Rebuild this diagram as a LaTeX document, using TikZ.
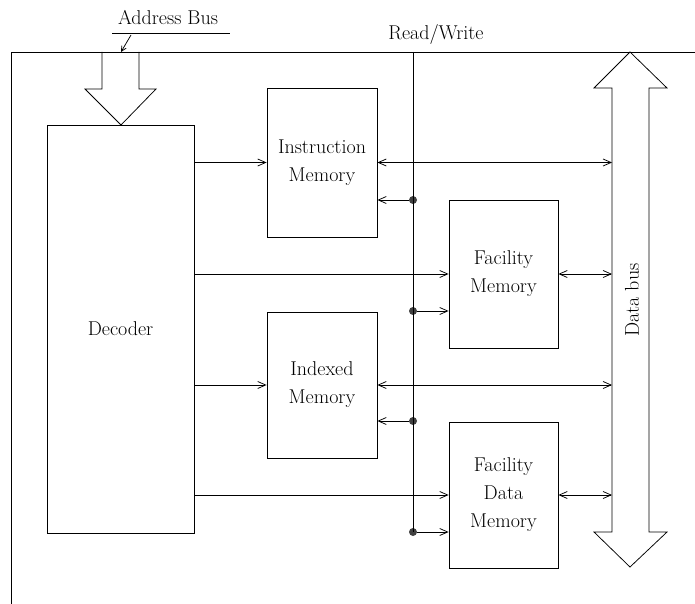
\documentclass[tikz,border=0pt]{standalone}
\usetikzlibrary{arrows.meta}
\begin{document}
\begin{tikzpicture}[x=1pt,y=-1pt,
  line width=0.75pt,
  box/.style={draw,rectangle,inner sep=0pt,align=center,font=\fontsize{20}{28}\selectfont},
  lbl/.style={inner sep=0pt,font=\fontsize{20}{24}\selectfont},
  arr/.style={-{Straight Barb[length=8pt,width=7pt]}},
  biarr/.style={{Straight Barb[length=8pt,width=7pt]}-{Straight Barb[length=8pt,width=7pt]}},
  tap/.style={circle,fill=black!75,inner sep=0pt,minimum size=8pt}]
\useasboundingbox (0,0) rectangle (695,604);

% outer frame, open to the right and at the bottom
\draw (695,52) -- (11,52) -- (11,604);

% address bus label and its pointer
\node[lbl] (abus) at (168,18) {Address Bus};
\coordinate (abL) at (112,33);
\coordinate (abR) at (230,33);
\draw (abL) -- (abR);
\coordinate (abS) at (131,35);
\coordinate (abT) at (121,52);
\draw[-{Straight Barb[length=5pt,width=5pt]}] (abS) -- (abT);

% address bus arrow into the decoder
\draw (102,52) -- (102,89) -- (85,89) -- (121,125) -- (156,89) -- (139,89) -- (139,52);

% blocks
\node[box,minimum width=147pt,minimum height=408pt] (dec) at (120.5,329) {Decoder};
\node[box,minimum width=110pt,minimum height=149pt] (inst) at (322,162.5) {Instruction\\Memory};
\node[box,minimum width=109pt,minimum height=148pt] (fac) at (503.5,274) {Facility\\Memory};
\node[box,minimum width=110pt,minimum height=146pt] (idx) at (322,385) {Indexed\\Memory};
\node[box,minimum width=109pt,minimum height=146pt] (fdm) at (503.5,495) {Facility\\Data\\Memory};

% data bus double arrow
\coordinate (dbL) at (612,52);
\draw (630,52) -- (667,88) -- (649,88) -- (649,532) -- (667,532) -- (630,567)
      -- (594,532) -- (612,532) -- (612,88) -- (594,88) -- cycle;
\node[lbl,rotate=90] (dbus) at (632,300) {Data bus};

% read/write line with taps
\node[lbl] (rw) at (436,35) {Read/Write};
\coordinate (rwTop) at (413,52);
\node[tap] (t1) at (413,200) {};
\node[tap] (t2) at (413,311) {};
\node[tap] (t3) at (413,421) {};
\node[tap] (t4) at (413,532) {};
\draw (rwTop) -- (t4.center);

% decoder select lines
\draw[arr] (dec.east |- inst.west) -- (inst.west);
\draw[arr] (dec.east |- fac.west) -- (fac.west);
\draw[arr] (dec.east |- idx.west) -- (idx.west);
\draw[arr] (dec.east |- fdm.west) -- (fdm.west);

% data connections
\draw[biarr] (inst.east) -- (inst.east -| dbL);
\draw[biarr] (fac.east) -- (fac.east -| dbL);
\draw[biarr] (idx.east) -- (idx.east -| dbL);
\draw[biarr] (fdm.east) -- (fdm.east -| dbL);

% read/write taps
\draw[arr] (t1) -- (t1 -| inst.east);
\draw[arr] (t2) -- (t2 -| fac.west);
\draw[arr] (t3) -- (t3 -| idx.east);
\draw[arr] (t4) -- (t4 -| fdm.west);
\end{tikzpicture}
\end{document}
